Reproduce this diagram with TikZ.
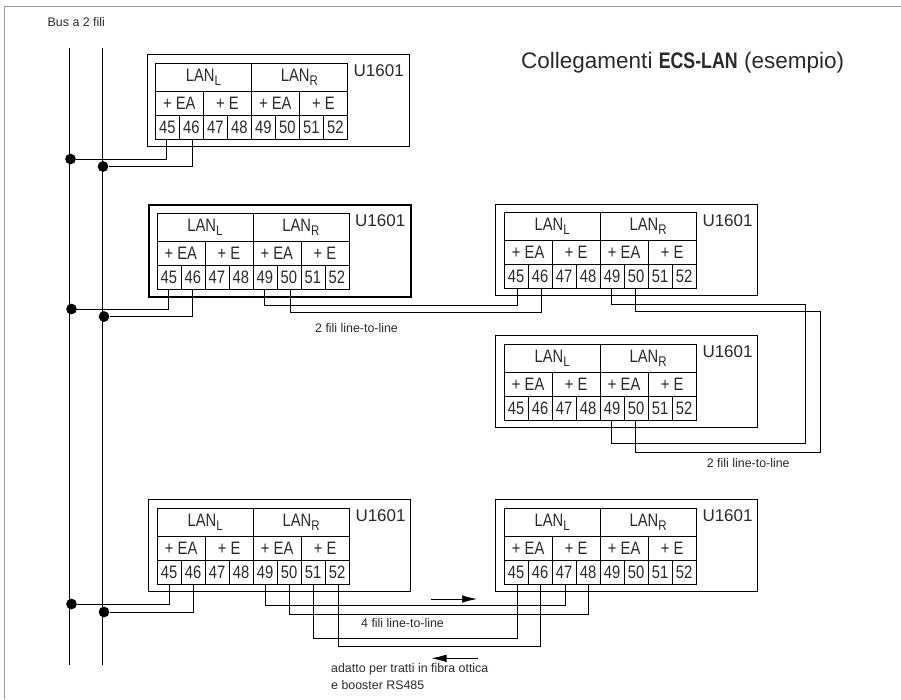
\documentclass[tikz,border=0pt]{standalone}
\usepackage{fontspec}
\usetikzlibrary{arrows.meta}
\setmainfont{Liberation Sans}
\newfontfamily\condfont[FakeStretch=0.82]{Liberation Sans}
\newfontfamily\boldcond[FakeStretch=0.79]{Liberation Sans Bold}
\definecolor{ink}{HTML}{2A2A2A}
\tikzset{
  wire/.style={draw=black,line width=0.8pt},
  cell/.style={draw=black,line width=0.7pt,minimum height=24pt,inner sep=0pt,text=ink,anchor=north west,font=\condfont\fontsize{18}{18}\selectfont},
  termcell/.style={cell,minimum width=24pt},
  groupcell/.style={cell,minimum width=48pt},
  lancell/.style={cell,minimum width=96pt,minimum height=28pt},
  modbox/.style={draw=black,line width=0.8pt,minimum width=262pt,minimum height=91.5pt,inner sep=0pt,anchor=north west},
  thickbox/.style={modbox,line width=2pt},
  utext/.style={text=ink,inner sep=0pt,font=\fontsize{17}{18}\selectfont},
  small/.style={text=ink,inner sep=0pt,anchor=west,font=\fontsize{12.4}{14}\selectfont},
  junction/.style={circle,fill=black,draw=none,minimum size=10.7pt,inner sep=0pt},
  flow/.style={draw=black,line width=0.7pt,-{Latex[length=15pt,width=7.5pt]}},
}
\newcommand{\subsc}[1]{\raisebox{-4pt}{\fontsize{14}{14}\selectfont #1}}
% #1 name, #2 x, #3 y of box corner, #4 box style
\newcommand{\lanmodule}[4]{%
  \node[#4] (#1) at (#2,#3) {};
  \begin{scope}[shift={(#2+8.5,#3+8.7)}]
    \node[lancell] (#1L) at (0,0) {LAN\subsc{L}};
    \node[lancell] (#1R) at (96,0) {LAN\subsc{R}};
    \node[groupcell] (#1a) at (0,28) {+ EA};
    \node[groupcell] (#1b) at (48,28) {+ E};
    \node[groupcell] (#1c) at (96,28) {+ EA};
    \node[groupcell] (#1d) at (144,28) {+ E};
    \foreach \n [count=\i from 0] in {45,...,52}
      \node[termcell] (#1t\n) at (\i*24,52) {\n};
    \node[utext,anchor=west] (#1u) at (198.5,8) {U1601};
  \end{scope}}
\begin{document}
\begin{tikzpicture}[x=1pt,y=-1pt]
\useasboundingbox (0,0) rectangle (901,699);
\coordinate (frameA) at (4.5,699);
\coordinate (frameB) at (4.5,6.5);
\coordinate (frameC) at (901,6.5);
\draw[draw=gray!80,line width=0.8pt] (frameA) -- (frameB) -- (frameC);

\node[small] (buslabel) at (47.5,22.5) {Bus a 2 fili};
\node[anchor=west,inner sep=0pt,text=ink,font=\fontsize{22.5}{26}\selectfont] (title) at (521,63) {Collegamenti {\boldcond ECS-LAN} (esempio)};

\lanmodule{ma}{146.5}{54.2}{modbox}
\lanmodule{mb}{148}{204}{thickbox}
\lanmodule{mc}{495.3}{203.7}{modbox}
\lanmodule{md}{495.3}{335.2}{modbox}
\lanmodule{me}{148.3}{499.3}{modbox}
\lanmodule{mf}{495.3}{499.3}{modbox}

% buses
\coordinate (busAtop) at (69.5,48);
\coordinate (busAbot) at (69.5,664.5);
\coordinate (busBtop) at (102.2,48);
\coordinate (busBbot) at (102.2,664.5);
\draw[wire] (busAtop) -- (busAbot);
\draw[wire] (busBtop) -- (busBbot);

\node[junction] (ja1) at (70.5,159) {};
\node[junction] (jb1) at (103,166.5) {};
\node[junction] (ja2) at (71.5,309) {};
\node[junction] (jb2) at (104,316.5) {};
\node[junction] (ja3) at (71.5,604) {};
\node[junction] (jb3) at (104,612) {};

% bus drops
\draw[wire] ([xshift=-1pt]mat45.south) |- (ja1);
\draw[wire] ([xshift=1pt]mat46.south) |- (jb1);
\draw[wire] (mbt45.south) |- (ja2);
\draw[wire] ([xshift=-.5pt]mbt46.south) |- (jb2);
\draw[wire] (met45.south) |- (ja3);
\draw[wire] (met46.south) |- (jb3);

% 2-wire link b -> c
\coordinate (bcA) at (400,305.5);
\coordinate (bcB) at (400,312.3);
\draw[wire] (mbt49.south) |- (bcA) -| ([xshift=1pt]mct45.south);
\draw[wire] ([xshift=1.5pt]mbt50.south) |- (bcB) -| ([xshift=1.5pt]mct46.south);
\node[small] (lblbc) at (315,328.5) {2 fili line-to-line};

% 2-wire link c -> d
\coordinate (cdA) at (805.3,304.3);
\coordinate (cdB) at (820.3,311.3);
\coordinate (cdC) at (805.3,443.3);
\coordinate (cdD) at (820.3,452.7);
\draw[wire] ([xshift=-1pt]mct49.south) |- (cdA) -- (cdC) -| ([xshift=-1pt]mdt49.south);
\draw[wire] ([xshift=-1pt]mct50.south) |- (cdB) -- (cdD) -| ([xshift=-1pt]mdt50.south);
\node[small] (lblcd) at (706.7,462.7) {2 fili line-to-line};

% 4-wire link e -> f
\coordinate (efA) at (400,605.3);
\coordinate (efB) at (400,614.3);
\coordinate (efC) at (400,638.3);
\coordinate (efD) at (400,646.3);
\draw[wire] (met49.south) |- (efA) -| ([xshift=1pt]mft47.south);
\draw[wire] (met50.south) |- (efB) -| ([xshift=.7pt]mft48.south);
\draw[wire] (met51.south) |- (efC) -| ([xshift=1pt]mft45.south);
\draw[wire] ([xshift=1pt]met52.south) |- (efD) -| ([xshift=0pt]mft46.south);
\node[small] (lblef) at (361,623.5) {4 fili line-to-line};

% direction arrows
\coordinate (arrAs) at (431,599);
\coordinate (arrAe) at (477,599);
\coordinate (arrBs) at (478,658.3);
\coordinate (arrBe) at (431.5,658.3);
\draw[flow] (arrAs) -- (arrAe);
\draw[flow] (arrBs) -- (arrBe);

\node[small] (note1) at (331,669) {adatto per tratti in fibra ottica};
\node[small] (note2) at (331,685) {e booster RS485};
\end{tikzpicture}
\end{document}
